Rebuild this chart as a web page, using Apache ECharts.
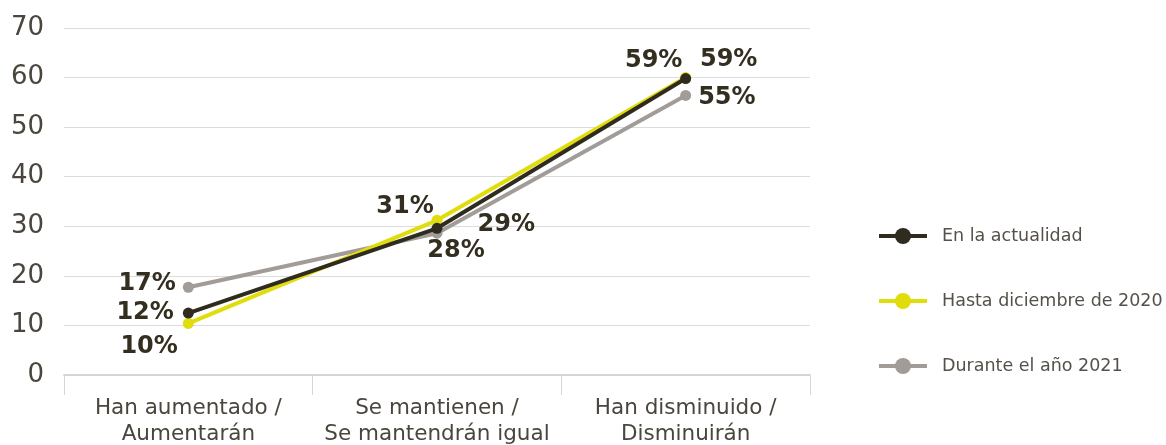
<!DOCTYPE html>
<html>
<head>
<meta charset="utf-8">
<script src="https://cdn.jsdelivr.net/npm/echarts@6/dist/echarts.min.js"></script>
<style>
  html, body { margin: 0; padding: 0; background: #fff; }
  #chart { width: 1166px; height: 445px; }
</style>
</head>
<body>
<div id="chart"></div>
<script>
// datos
var categorias = ['Han aumentado /\nAumentarán', 'Se mantienen /\nSe mantendrán igual', 'Han disminuido /\nDisminuirán'];
var nombres = ['En la actualidad', 'Hasta diciembre de 2020', 'Durante el año 2021'];
var actualidad = [12.5, 29.6, 59.8];
var hasta2020 = [10.4, 31.2, 60.0];
var anio2021 = [17.7, 28.6, 56.4];
// textos de las etiquetas, tal como aparecen
var etqActualidad = ['12%', '29%', '59%'];
var etqHasta2020 = ['10%', '31%', '59%'];
var etq2021 = ['17%', '28%', '55%'];
var ticksY = [0, 10, 20, 30, 40, 50, 60, 70];

var colores = ['#2f2b1f', '#e1dc0c', '#a19c98'];
var fuente = 'DejaVu Sans';

var chart = echarts.init(document.getElementById('chart'));

// posicion de cada etiqueta (estilo, no datos)
var posActualidad = [['left', [-1, 0]], ['right', [27, -4]], ['top', [-32, 8]]];
var posHasta2020 = [['left', [3, 23]], ['top', [-32, 12]], ['top', [43, 8]]];
var pos2021 = [['left', [1, -3]], ['bottom', [19, -8]], ['right', [-1, 2]]];

function armarDatos(valores, textos, pos) {
  return valores.map(function (v, i) {
    return {
      value: v,
      label: { position: pos[i][0], offset: pos[i][1], formatter: textos[i] }
    };
  });
}

function serie(nombre, valores, textos, pos, color, z) {
  return {
    name: nombre,
    type: 'line',
    z: z,
    symbol: 'circle',
    symbolSize: 11,
    lineStyle: { width: 4, color: color },
    itemStyle: { color: color },
    label: {
      show: true,
      fontFamily: fuente,
      fontWeight: 'bold',
      fontSize: 24,
      color: '#332e20',
      distance: 8
    },
    emphasis: { disabled: true },
    data: armarDatos(valores, textos, pos)
  };
}

var option = {
  backgroundColor: '#FFFFFF',
  animation: false,
  grid: { left: 64, right: 356, top: 28, bottom: 70, containLabel: false, outerBoundsMode: 'none' },
  legend: {
    orient: 'vertical',
    left: 872,
    top: 222,
    itemWidth: 48,
    itemHeight: 20,
    itemGap: 47,
    data: nombres,
    lineStyle: { width: 4 },
    textStyle: { fontFamily: fuente, fontSize: 17.5, color: '#55514a', padding: [0, 0, 0, 10] }
  },
  xAxis: {
    type: 'category',
    data: categorias,
    boundaryGap: true,
    axisLine: { lineStyle: { color: '#d6d6d6', width: 2 } },
    axisTick: { show: true, length: 20, lineStyle: { color: '#d6d6d6' } },
    axisLabel: {
      fontFamily: fuente,
      fontSize: 21.5,
      color: '#4a463d',
      lineHeight: 26,
      margin: 20,
      interval: 0
    }
  },
  yAxis: {
    type: 'value',
    min: ticksY[0],
    max: ticksY[ticksY.length - 1],
    interval: 10,
    axisLine: { show: false },
    axisTick: { show: false },
    splitLine: { lineStyle: { color: '#dcdcdc', width: 1 } },
    axisLabel: { fontFamily: fuente, fontSize: 26, color: '#4a463d', margin: 20 }
  },
  series: [
    serie(nombres[2], anio2021, etq2021, pos2021, colores[2], 2),
    serie(nombres[1], hasta2020, etqHasta2020, posHasta2020, colores[1], 3),
    serie(nombres[0], actualidad, etqActualidad, posActualidad, colores[0], 4)
  ]
};

chart.setOption(option);
window.onresize = function () { chart.resize(); };
</script>
</body>
</html>
